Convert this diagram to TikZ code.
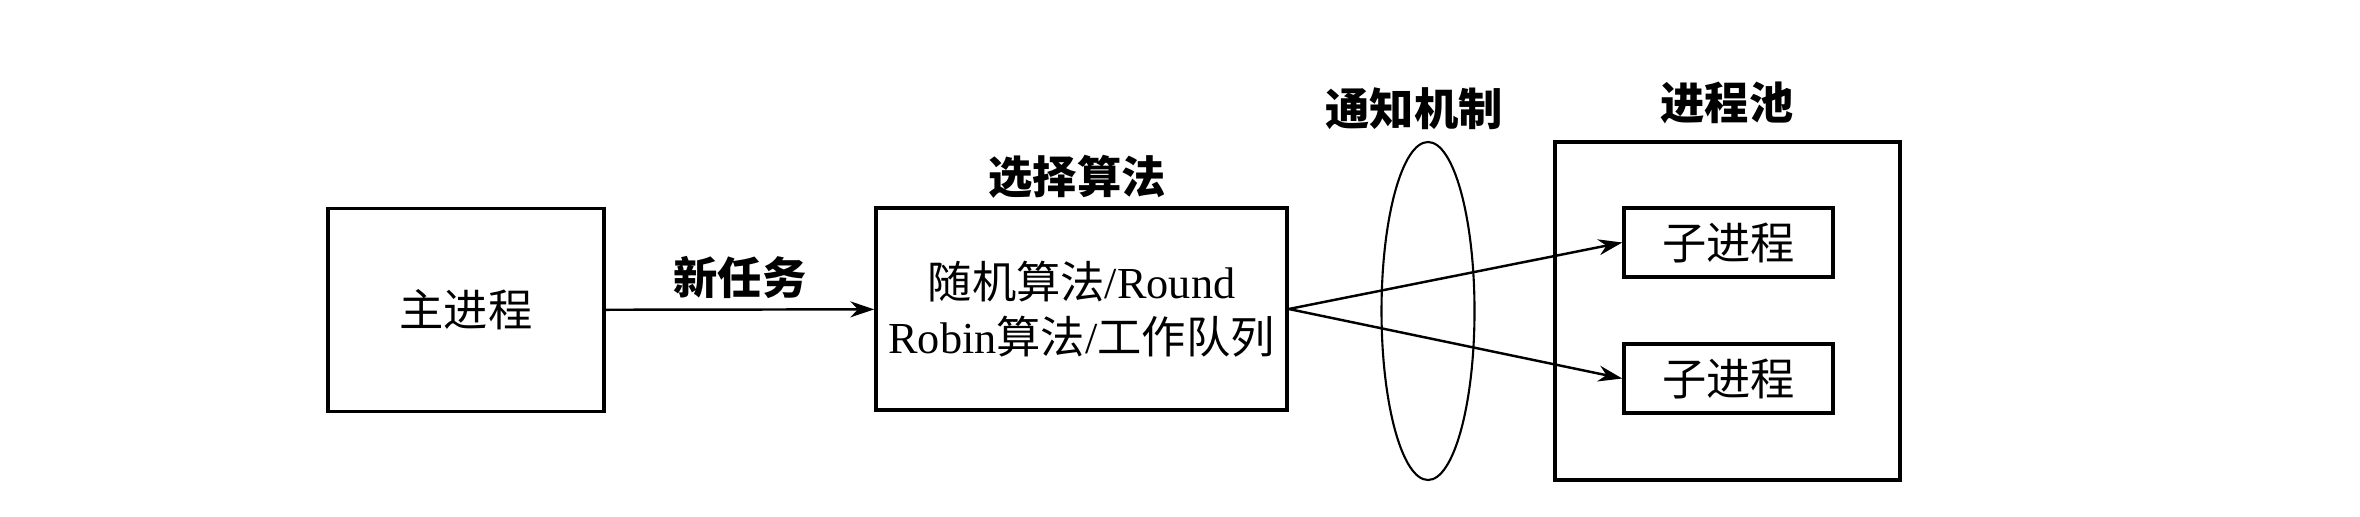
\documentclass[tikz,border=0pt]{standalone}
\usepackage{fontspec}
\setmainfont{Noto Sans CJK SC}
\newfontfamily\seriflat{Liberation Serif}
\usepackage{tikz}
\usetikzlibrary{arrows.meta,positioning,shapes.geometric}
\tikzset{
  procbox/.style  = {draw, line width=1pt, inner sep=0pt, align=center,
                     font=\fontsize{12.6}{15.6}\selectfont},
  subbox/.style   = {procbox, minimum width=20.9mm, minimum height=6.9mm},
  grouplab/.style = {font=\bfseries\fontsize{12.6}{15.6}\selectfont, inner sep=0pt},
  chan/.style     = {ellipse, draw, line width=0.6pt, inner sep=0pt,
                     minimum width=9.3mm, minimum height=33.8mm},
  msg/.style      = {-{Stealth[length=2.4mm,width=1.6mm]}, line width=0.7pt},
}

\begin{document}
\begin{tikzpicture}[x=0.1mm, y=0.1mm]
  \useasboundingbox (0,0) rectangle (2360,516);
  \node[procbox, minimum width=27.6mm, minimum height=20.3mm] (master) at (466, 206) {主进程};
  \node[procbox, minimum width=41.1mm, minimum height=20.2mm] (select) at (1081.5, 207)
       {随机算法{\seriflat/Round}\\{\seriflat Robin}算法{\seriflat/}工作队列};
  \node[grouplab] (selectlab) at (1077, 339) {选择算法};
  \node[chan] (notify) at (1428, 205) {};
  \node[grouplab] (notifylab) at (1414, 407) {通知机制};
  \node[procbox, minimum width=34.5mm, minimum height=33.8mm] (pool) at (1727.5, 205) {};
  \node[grouplab] (poollab) at (1727, 413) {进程池};
  \node[subbox] (child1) at (1728.5, 273.5) {子进程};
  \node[subbox] (child2) at (1728.5, 137.5) {子进程};
  \draw[msg] (master) -- node[grouplab, above=1mm] (tasklab) {新任务} (select);
  \draw[msg] (select.east) -- (child1.west);
  \draw[msg] (select.east) -- (child2.west);
\end{tikzpicture}
\end{document}
